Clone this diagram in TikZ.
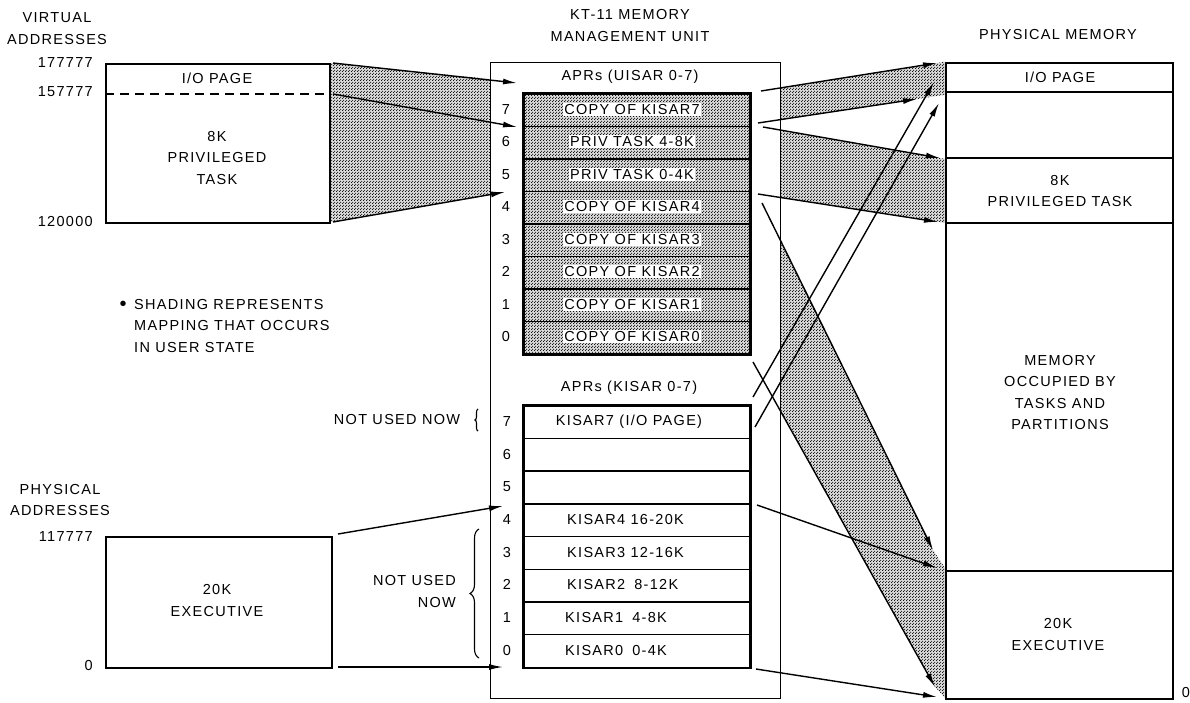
\documentclass[tikz,border=0pt]{standalone}
\usepackage{fontspec}
\setmainfont{Liberation Sans}[LetterSpace=9]
\usetikzlibrary{arrows.meta,patterns.meta,decorations.pathreplacing}
\tikzdeclarepattern{name=udots, type=uncolored,
  bounding box={(0pt,0pt) and (3pt,3pt)}, tile size={(3pt,3pt)},
  code={\fill (0.75pt,0.75pt) circle (0.72pt); \fill (2.25pt,2.25pt) circle (0.72pt);}}
\newcommand\dfont{\fontsize{14.5}{21.5}\selectfont}
\begin{document}
\begin{tikzpicture}[x=1pt,y=-1pt,
  every node/.style={font=\dfont, inner sep=0pt},
  dotfill/.style={pattern=udots, pattern color=black, preaction={fill=gray!30}},
  memb/.style={draw, line width=2.4pt, anchor=north west},
  outerb/.style={draw, line width=1.3pt, anchor=north west},
  urow/.style={draw, line width=1.5pt, anchor=north west, minimum width=226pt, minimum height=32.5pt, dotfill},
  krow/.style={draw, line width=1.5pt, anchor=north west, minimum width=226pt, minimum height=32.7pt},
  rtxt/.style={fill=white, inner sep=1.2pt},
  arr/.style={line width=1.4pt, -{Latex[length=14pt,width=6pt]}},
  brc/.style={line width=1.1pt, decorate}]
\useasboundingbox (0,0) rectangle (1190,702);

% ---------- shaded mapping regions ----------
\path[dotfill] (331,63) -- (490,79) -- (490,195) -- (331,222) -- cycle;
\path[dotfill] (781,87.8) -- (945,61.7) -- (945,94.8) -- (781,119.5) -- cycle;
\path[dotfill] (781,130.2) -- (945,158.9) -- (945,223) -- (781,197.6) -- cycle;
\path[dotfill] (781,241.6) -- (933,550) -- (945,568) -- (945,698) -- (935,687) -- (781,412) -- cycle;

% ---------- titles ----------
\node[align=center] (tvirt) at (57,28.5) {VIRTUAL\\ADDRESSES};
\node[align=center] (tmmu) at (630,25.5) {KT-11 MEMORY\\MANAGEMENT UNIT};
\node (tpm) at (1058,35) {PHYSICAL MEMORY};
\node[align=center] (tphys) at (60,500) {PHYSICAL\\ADDRESSES};

% ---------- virtual address box ----------
\node[memb, minimum width=224pt, minimum height=159pt] (vbox) at (105,63) {};
\draw[line width=1.5pt, dash pattern=on 9pt off 6pt] (vbox.west |- 0,94) -- (vbox.east |- 0,94);
\node (vio) at (217,78) {I/O PAGE};
\node[align=center] (vpt) at (217,158) {8K\\PRIVILEGED\\TASK};
\node[anchor=east] (a1) at (93,63) {177777};
\node[anchor=east] (a2) at (93,92) {157777};
\node[anchor=east] (a3) at (93,222) {120000};

% ---------- executive box ----------
\node[memb, minimum width=226pt, minimum height=131pt] (ebox) at (105,536) {};
\node[align=center] (etxt) at (217,600.5) {20K\\EXECUTIVE};
\node[anchor=east] (a4) at (93,537) {117777};
\node[anchor=east] (a5) at (93,665) {0};

% ---------- note ----------
\node (bul) at (123,306) {\fontsize{20}{20}\selectfont\textbullet};
\node[anchor=north west, align=left] (note) at (134,299) {SHADING REPRESENTS\\MAPPING THAT OCCURS\\IN USER STATE};

% ---------- MMU ----------
\node[outerb, minimum width=290pt, minimum height=636pt] (mmu) at (490,62) {};
\node (uttl) at (630,77) {APRs (UISAR 0-7)};
\foreach \i/\t [count=\k from 0] in {7/COPY OF KISAR7,6/PRIV TASK 4-8K,5/PRIV TASK 0-4K,4/COPY OF KISAR4,3/COPY OF KISAR3,2/COPY OF KISAR2,1/COPY OF KISAR1,0/COPY OF KISAR0}{
  \node[urow] (u\i) at (523,{93+32.5*\k}) {};
  \node[rtxt] (ut\i) at (632,{109.25+32.5*\k}) {\t};
  \node (un\i) at (506,{109.25+32.5*\k}) {\i};
}
\draw[line width=2.6pt] (u7.north west) rectangle (u0.south east);

\node (kttl) at (629,388) {APRs (KISAR 0-7)};
\foreach \i [count=\k from 0] in {7,6,5,4,3,2,1,0}{
  \node[krow] (k\i) at (523,{405+32.7*\k}) {};
  \node (kn\i) at (507,{421.35+32.7*\k}) {\i};
}
\draw[line width=2.6pt] (k7.north west) rectangle (k0.south east);
\node (kt7) at (629,421.35) {KISAR7 (I/O PAGE)};
\node[anchor=west] (kt4) at (567,519.45) {KISAR4 16-20K};
\node[anchor=west] (kt3) at (567,552.15) {KISAR3 12-16K};
\node[anchor=west] (kt2) at (567,584.85) {KISAR2\hspace{9pt}8-12K};
\node[anchor=west] (kt1) at (565,617.55) {KISAR1\hspace{9pt}4-8K};
\node[anchor=west] (kt0) at (565,650.25) {KISAR0\hspace{9pt}0-4K};

% ---------- not used labels ----------
\node (nu1) at (397,419) {NOT USED NOW};
\draw[brc, decoration={brace, amplitude=3pt}] (478,431) -- (478,409);
\node[align=right, anchor=east] (nu2) at (456,591.5) {NOT USED\\NOW};
\draw[brc, decoration={brace, amplitude=9pt}] (479,658) -- (479,529);

% ---------- physical memory ----------
\node[draw, line width=2pt, anchor=north west, minimum width=227pt, minimum height=636pt] (pm) at (945,62) {};
\foreach \yy in {92,158,223,571}{
  \draw[line width=1.5pt] (pm.west |- 0,\yy) -- (pm.east |- 0,\yy);
}
\node (pio) at (1060,77) {I/O PAGE};
\node[align=center] (ppt) at (1060,191) {8K\\PRIVILEGED TASK};
\node[align=center] (pocc) at (1060,392.5) {MEMORY\\OCCUPIED BY\\TASKS AND\\PARTITIONS};
\node[align=center] (pex) at (1058,634.5) {20K\\EXECUTIVE};
\node (pzero) at (1186,692) {0};

% ---------- connector end points ----------
\coordinate (l1s) at (333,63);  \coordinate (l1e) at (517,83);
\coordinate (l2s) at (333,94);  \coordinate (l2e) at (517,127);
\coordinate (l3s) at (333,222); \coordinate (l3e) at (505,192);
\coordinate (l4s) at (338,534); \coordinate (l4e) at (503,506);
\coordinate (l5s) at (338,667); \coordinate (l5e) at (503,667);
\coordinate (rAs) at (761,91);  \coordinate (rAe) at (937,63);
\coordinate (rBs) at (758,123); \coordinate (rBe) at (917,99);
\coordinate (rCs) at (763,127); \coordinate (rCe) at (940,158);
\coordinate (rDs) at (758,194); \coordinate (rDe) at (938,222);
\coordinate (rEs) at (753,397); \coordinate (rEe) at (934,82);
\coordinate (rFs) at (755,427); \coordinate (rFe) at (939,103);
\coordinate (rGs) at (762,203); \coordinate (rGe) at (933,550);
\coordinate (rLs) at (753,362); \coordinate (rLe) at (935,687);
\coordinate (rHs) at (757,505); \coordinate (rHe) at (937,568);
\coordinate (rIs) at (756,669); \coordinate (rIe) at (937,697);

% ---------- connectors ----------
\foreach \c in {l1,l2,l3,l4,l5,rA,rB,rC,rD,rE,rF,rG,rL,rH,rI}{
  \draw[arr] (\c s) -- (\c e);
}
\end{tikzpicture}
\end{document}
